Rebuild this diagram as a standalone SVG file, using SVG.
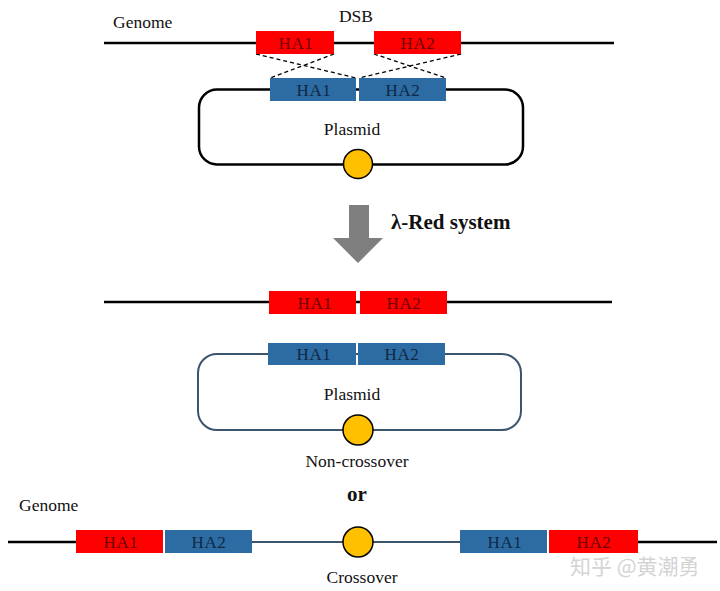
<svg xmlns="http://www.w3.org/2000/svg" width="720" height="591" viewBox="0 0 720 591">
<style>
text{font-family:"Liberation Serif","DejaVu Serif",serif;}
.lbl{font-size:17.5px;fill:#111;}
.ha{font-size:17px;text-anchor:middle;letter-spacing:0.6px;}
.red{fill:#ff0000;}
.blue{fill:#2d6ca2;}
.tr{fill:#6a0000;}
.tb{fill:#0e2846;}
.blk{stroke:#000;stroke-width:2.5;fill:none;}
.slate{stroke:#3b556f;stroke-width:2;fill:none;}
.dash{stroke:#000;stroke-width:1.3;stroke-dasharray:4,3;fill:none;}
.ori{fill:#ffc000;stroke:#000;stroke-width:1.5;}
</style>
<rect width="720" height="591" fill="#fff"/>
<g id="connectors">
<line class="blk" x1="104" y1="43" x2="614" y2="43"/>
<line class="dash" x1="256" y1="54" x2="356" y2="78"/>
<line class="dash" x1="334" y1="54" x2="270" y2="78"/>
<line class="dash" x1="374" y1="54" x2="446" y2="78"/>
<line class="dash" x1="461" y1="54" x2="359" y2="78"/>
<rect class="blk" x="199" y="89.5" width="324" height="75" rx="18"/>
<line class="blk" x1="104" y1="302" x2="612" y2="302"/>
<rect class="slate" x="198" y="354" width="323" height="76" rx="19"/>
<line class="blk" x1="8" y1="542" x2="76" y2="542"/>
<line class="slate" x1="252" y1="542" x2="460" y2="542"/>
<line class="blk" x1="638" y1="542" x2="717" y2="542"/>
</g>
<g id="top-genome">
<text class="lbl" x="113" y="28">Genome</text>
<text class="lbl" x="356" y="22" text-anchor="middle">DSB</text>
</g>
<g id="top-ha1-red"><rect class="red" x="256" y="31" width="78" height="23"/><text class="ha tr" x="296" y="48.5">HA1</text></g>
<g id="top-ha2-red"><rect class="red" x="374" y="31" width="87" height="23"/><text class="ha tr" x="418" y="48.5">HA2</text></g>
<g id="top-ha1-blue"><rect class="blue" x="270" y="78" width="86" height="23"/><text class="ha tb" x="314" y="95.5">HA1</text></g>
<g id="top-ha2-blue"><rect class="blue" x="359" y="78" width="87" height="23"/><text class="ha tb" x="403" y="95.5">HA2</text></g>
<g id="top-plasmid"><text class="lbl" x="352" y="135" text-anchor="middle">Plasmid</text><circle class="ori" cx="358" cy="164" r="14.5"/></g>
<g id="arrow">
<polygon points="349,205 369,205 369,238 383,238 358,263 333,238 349,238" fill="#7f7f7f"/>
<text x="391" y="229" font-size="21" font-weight="bold" fill="#111">λ-Red system</text>
</g>
<g id="mid-ha1-red"><rect class="red" x="269" y="291" width="87" height="23"/><text class="ha tr" x="315" y="308.5">HA1</text></g>
<g id="mid-ha2-red"><rect class="red" x="360" y="291" width="87" height="23"/><text class="ha tr" x="404" y="308.5">HA2</text></g>
<g id="mid-ha1-blue"><rect class="blue" x="268" y="343" width="88" height="22"/><text class="ha tb" x="314" y="360">HA1</text></g>
<g id="mid-ha2-blue"><rect class="blue" x="358" y="343" width="87" height="22"/><text class="ha tb" x="402" y="360">HA2</text></g>
<g id="mid-plasmid"><text class="lbl" x="352" y="400" text-anchor="middle">Plasmid</text><circle class="ori" cx="358" cy="430" r="15"/></g>
<g id="labels">
<text class="lbl" x="357" y="467" text-anchor="middle">Non-crossover</text>
<text x="357" y="501" font-size="21" font-weight="bold" text-anchor="middle" fill="#111">or</text>
<text class="lbl" x="19" y="511">Genome</text>
<text class="lbl" x="362" y="583" text-anchor="middle">Crossover</text>
</g>
<g id="bot-ha1-red"><rect class="red" x="76" y="530" width="87" height="23"/><text class="ha tr" x="121" y="547.5">HA1</text></g>
<g id="bot-ha2-blue"><rect class="blue" x="165" y="530" width="87" height="23"/><text class="ha tb" x="209" y="547.5">HA2</text></g>
<g id="bot-ori"><circle class="ori" cx="358" cy="542" r="15"/></g>
<g id="bot-ha1-blue"><rect class="blue" x="460" y="530" width="87" height="23"/><text class="ha tb" x="505" y="547.5">HA1</text></g>
<g id="bot-ha2-red"><rect class="red" x="549" y="530" width="89" height="23"/><text class="ha tr" x="594" y="547.5">HA2</text></g>
<g id="watermark"><text x="570" y="574" font-size="21" fill="#d4d4d4" style="font-family:'Noto Sans CJK SC',sans-serif">知乎 @黄潮勇</text></g>
</svg>
